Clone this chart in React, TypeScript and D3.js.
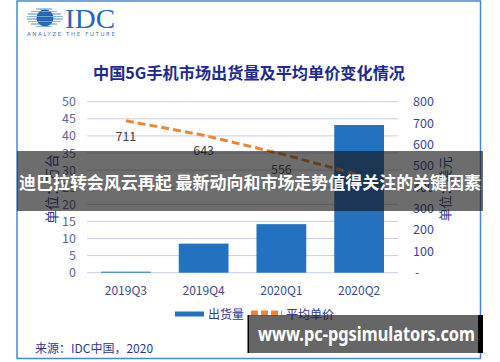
import React from "react";
import * as d3 from "d3";

const quarters = ["2019Q3", "2019Q4", "2020Q1", "2020Q2"];
const shipments = [0.3, 8.5, 14.2, 43.2];
const avgPrice = [711, 643, 556, 457];
const priceLabels = ["711", "643", "556", ""];
const leftTicks = [0, 5, 10, 15, 20, 25, 30, 35, 40, 45, 50];
const rightTicks = [0, 100, 200, 300, 400, 500, 600, 700, 800];

const title = "中国5G手机市场出货量及平均单价变化情况";
const leftTitle = "单位：万台";
const rightTitle = "单位：美元";
const legendBar = "出货量";
const legendLine = "平均单价";
const source = "来源：IDC中国，2020";
const banner1 = "迪巴拉转会风云再起 最新动向和市场走势值得关注的关键因素";
const banner2 = "www.pc-pgsimulators.com";

const FONT = "'Noto Sans CJK SC', 'Noto Sans', sans-serif";

export default function App() {
  const x0 = 87, x1 = 398;
  const yTop = 101.7, yBot = 272.7;
  const x = d3.scaleBand<string>().domain(quarters).range([x0, x1]).paddingInner(0.36).paddingOuter(0.18);
  const yL = d3.scaleLinear().domain([0, 50]).range([yBot, yTop]);
  const yR = d3.scaleLinear().domain([0, 800]).range([yBot, yTop]);
  const cx = (q: string) => (x(q) as number) + x.bandwidth() / 2;

  const line = d3.line<number>().x((_, i) => cx(quarters[i])).y((d) => yR(d));

  const stripes = [
    { y: 9, x1: 36, x2: 52 },
    { y: 11.5, x1: 31, x2: 57 },
    { y: 14, x1: 28, x2: 61 },
    { y: 16.5, x1: 27, x2: 63 },
    { y: 19, x1: 27, x2: 63 },
    { y: 21.5, x1: 28, x2: 61 },
    { y: 24, x1: 31, x2: 57 },
    { y: 26.5, x1: 36, x2: 52 },
  ];

  return (
    <svg width={500} height={362} style={{ position: "absolute", left: 0, top: 0, background: "#fff" }} fontFamily={FONT}>
      <rect x={0} y={0} width={500} height={362} fill="#fff" />
      <rect x={17} y={1} width={463.5} height={357.5} fill="#fff" stroke="#4a86d0" strokeWidth={1.5} />

      {/* logo */}
      <g>
        <circle cx={45} cy={18} r={8.5} fill="#1f5fae" />
        {stripes.map((s, i) => (
          <line key={i} x1={s.x1} x2={s.x2} y1={s.y} y2={s.y} stroke={i % 2 ? "#7fb0e0" : "#3f7fc8"} strokeWidth={1} opacity={0.9} />
        ))}
        <text x={65} y={28} fontFamily="'Liberation Serif', 'DejaVu Serif', serif" fontSize={28} fill="#2a66b8" textLength={50} lengthAdjust="spacingAndGlyphs">IDC</text>
        <text x={27} y={35.5} fontSize={5.5} fill="#3a6fb8" textLength={88} lengthAdjust="spacing" fontFamily="'DejaVu Sans', sans-serif">ANALYZE THE FUTURE</text>
      </g>

      {/* title */}
      <text x={249} y={79} textAnchor="middle" fontSize={16} fontWeight="bold" fill="#1e2a8e" textLength={312} lengthAdjust="spacingAndGlyphs">{title}</text>

      {/* grid */}
      {leftTicks.map((t) => (
        <line key={t} x1={x0} x2={x1} y1={yL(t)} y2={yL(t)} stroke="#c9cce9" strokeWidth={1} />
      ))}

      {/* left ticks */}
      {leftTicks.map((t) => (
        <text key={t} x={76} y={yL(t) + 4.5} textAnchor="end" fontSize={12.5} fill="#5d6596">{t}</text>
      ))}
      {/* right ticks */}
      {rightTicks.map((t) => (
        <text key={t} x={t === 0 ? 415 : 413} y={yR(t) + 4.5} textAnchor="start" fontSize={12.5} fill="#3d3f9c">{t === 0 ? "-" : t}</text>
      ))}

      {/* axis titles */}
      <text transform="translate(57,189) rotate(-90)" textAnchor="middle" fontSize={14} fill="#2e3598">{leftTitle}</text>
      <text transform="translate(450,189) rotate(-90)" textAnchor="middle" fontSize={13} fill="#2e3598">{rightTitle}</text>

      {/* bars */}
      {quarters.map((q, i) => (
        <rect key={q} x={x(q)} y={yL(shipments[i])} width={x.bandwidth()} height={yBot - yL(shipments[i])} fill="#2272bf" />
      ))}

      {/* line */}
      <path d={line(avgPrice) || ""} fill="none" stroke="#ee8536" strokeWidth={3} strokeDasharray="8,4" />
      {priceLabels.map((l, i) => (
        l ? <text key={i} x={cx(quarters[i])} y={yR(avgPrice[i]) + 20} textAnchor="middle" fontSize={12.5} fill="#404040">{l}</text> : null
      ))}

      {/* x labels */}
      {quarters.map((q) => (
        <text key={q} x={cx(q)} y={294.5} textAnchor="middle" fontSize={12} fill="#3b4890">{q}</text>
      ))}

      {/* legend */}
      <rect x={175} y={311.5} width={29} height={5} fill="#2272bf" />
      <text x={208} y={318.5} fontSize={12} fill="#2e3598">{legendBar}</text>
      <line x1={251} x2={282} y1={313} y2={313} stroke="#ee8536" strokeWidth={5} strokeDasharray="7,3" />
      <text x={286} y={318.5} fontSize={12} fill="#2e3598">{legendLine}</text>

      {/* source */}
      <text x={35} y={353} fontSize={12} fill="#2e3598">{source}</text>

      {/* overlays */}
      <rect x={17} y={151} width={466} height={60} fill="rgba(20,20,20,0.62)" />
      <text x={19} y={189} fontSize={17} fontWeight="bold" fill="#ffffff" textLength={462} lengthAdjust="spacingAndGlyphs">{banner1}</text>

      <rect x={248} y={315} width={234} height={38} fill="rgba(20,20,20,0.65)" />
      <rect x={478} y={315} width={5} height={38} fill="#000" />
      <rect x={247.5} y={315} width={1.5} height={38} fill="#000" />
      <text x={258} y={341} fontSize={20} fontWeight="bold" fill="#ffffff" fontFamily="'Noto Sans', 'Open Sans', sans-serif" textLength={217} lengthAdjust="spacingAndGlyphs">{banner2}</text>
    </svg>
  );
}
